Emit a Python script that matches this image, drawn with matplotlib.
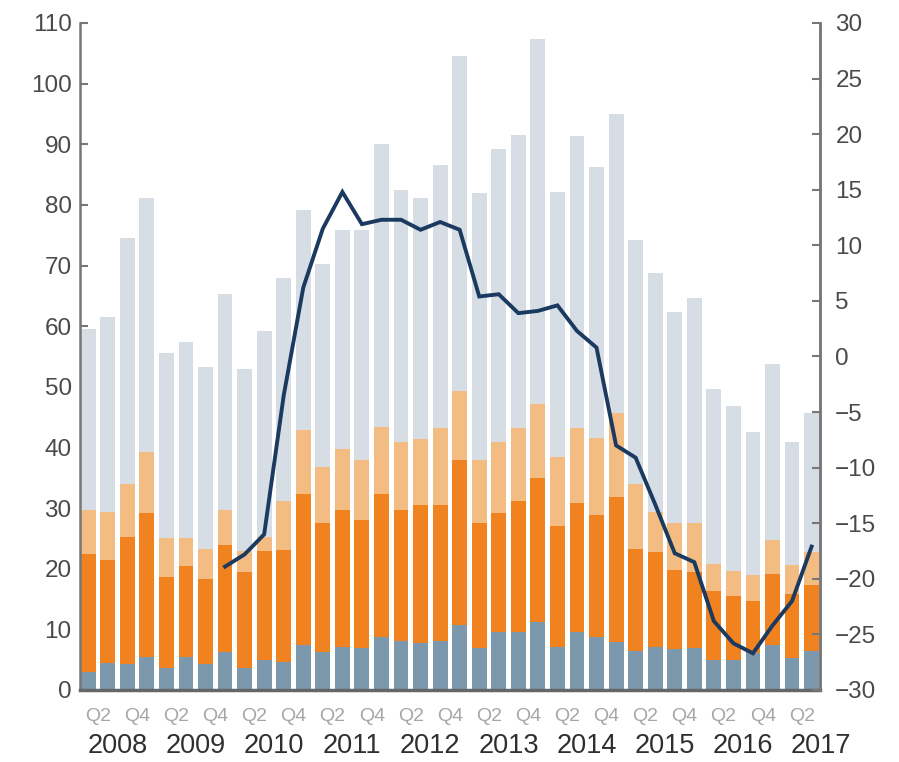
import numpy as np
import matplotlib
matplotlib.use("Agg")
import matplotlib.pyplot as plt

plt.rcParams['font.family'] = ['Liberation Sans', 'DejaVu Sans']

# quarterly stacked layers, 2008 Q1 .. 2017 Q2 (left axis)
blue = [3.0, 4.5, 4.3, 5.5, 3.6, 5.4, 4.3, 6.3, 3.6, 5.0, 4.7, 7.5, 6.2, 7.1, 6.9, 8.8,
        8.0, 7.8, 8.0, 10.8, 6.9, 9.5, 9.5, 11.2, 7.1, 9.6, 8.8, 7.9, 6.4, 7.1, 6.8, 7.0,
        4.9, 4.9, 6.1, 7.4, 5.2, 6.4]
orange = [19.5, 17.0, 20.9, 23.7, 15.1, 15.1, 14.0, 17.6, 15.9, 18.0, 18.4, 24.8, 21.3, 22.6,
          21.2, 23.5, 21.7, 22.7, 22.5, 27.2, 20.6, 19.7, 21.6, 23.8, 20.0, 21.3, 20.1, 24.0,
          16.8, 15.7, 13.0, 12.5, 11.5, 10.6, 8.6, 11.7, 10.6, 10.9]
light_orange = [7.2, 7.8, 8.8, 10.1, 6.3, 4.5, 5.0, 5.8, 3.5, 2.3, 8.1, 10.6, 9.2, 10.0, 9.9,
                11.1, 11.2, 10.9, 12.7, 11.3, 10.5, 11.7, 12.1, 12.2, 11.3, 12.3, 12.6, 13.8,
                10.7, 6.6, 7.7, 8.0, 4.4, 4.2, 4.2, 5.7, 4.8, 5.5]
grey = [29.8, 32.2, 40.5, 41.9, 30.5, 32.4, 30.0, 35.6, 29.9, 33.9, 36.8, 36.3, 33.5, 36.1,
        37.8, 46.6, 41.5, 39.7, 43.4, 55.2, 44.0, 48.3, 48.4, 60.2, 43.7, 48.1, 44.7, 49.3,
        40.3, 39.3, 34.9, 37.1, 28.8, 27.1, 23.6, 29.0, 20.3, 22.9]

# line on right axis, 2009 Q4 .. 2017 Q2
line_start = 7
line_vals = [-18.9, -17.8, -16.0, -3.5, 6.2, 11.5, 14.8, 11.9, 12.3, 12.3, 11.4, 12.1, 11.4,
             5.4, 5.6, 3.9, 4.1, 4.6, 2.3, 0.8, -8.0, -9.1, -13.3, -17.7, -18.5, -23.8,
             -25.8, -26.7, -24.2, -22.0, -17.1]

q_labels = ['Q2', 'Q4'] * 9 + ['Q2']
years = ['2008', '2009', '2010', '2011', '2012', '2013', '2014', '2015', '2016', '2017']

x = np.arange(len(blue))
layers = [(blue, '#7c98ad'), (orange, '#f0821f'), (light_orange, '#f3bc82'), (grey, '#d6dde5')]

fig = plt.figure(figsize=(8.99, 7.62), dpi=100)
ax = fig.add_axes([80 / 899, 1 - 690 / 762, 740 / 899, 667 / 762])

bottom = np.zeros(len(x))
for vals, col in layers:
    ax.bar(x, vals, bottom=bottom, width=0.76, color=col, linewidth=0, zorder=2)
    bottom += np.array(vals)

ax.set_xlim(-0.42, 37.43)
ax.set_ylim(0, 110)
ax.set_yticks(np.arange(0, 111, 10))
ax.set_xticks([])

axis_col = '#777777'
for side in ['left', 'right']:
    ax.spines[side].set_color(axis_col)
    ax.spines[side].set_linewidth(1.8)
ax.spines['bottom'].set_color('#666666')
ax.spines['bottom'].set_linewidth(2.5)
ax.spines['top'].set_visible(False)
ax.tick_params(axis='y', direction='in', length=6, width=1.5, color=axis_col,
               labelsize=17.5, labelcolor='#4a4a4a', pad=6)

ax2 = ax.twinx()
ax2.set_ylim(-30, 30)
ax2.set_yticks(np.arange(-30, 31, 5))
ax2.spines['top'].set_visible(False)
ax2.spines['right'].set_color(axis_col)
ax2.spines['right'].set_linewidth(1.8)
ax2.spines['left'].set_visible(False)
ax2.spines['bottom'].set_visible(False)
ax2.tick_params(axis='y', direction='in', length=6, width=1.5, color=axis_col,
                labelsize=17.5, labelcolor='#4a4a4a', pad=11)
ax2.plot(np.arange(line_start, line_start + len(line_vals)), line_vals,
         color='#1b3a60', linewidth=2.8, solid_joinstyle='miter', zorder=5)

# quarter and year labels below the axis
for i, lab in enumerate(q_labels):
    ax.text(0.5 + 2 * i, -0.040, lab, transform=ax.get_xaxis_transform(),
            ha='center', va='center', fontsize=14, color='#a6a6a6')
for k, yr in enumerate(years):
    ax.text(1.5 + 4 * k, -0.084, yr, transform=ax.get_xaxis_transform(),
            ha='center', va='center', fontsize=19.5, color='#2f2f2f')

fig.savefig('out.png', dpi=100)
